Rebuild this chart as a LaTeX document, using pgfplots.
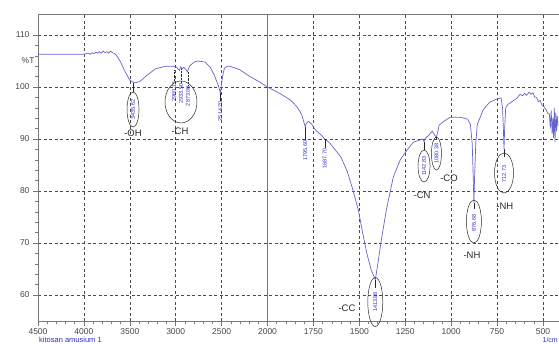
\documentclass[border=0pt]{standalone}
\usepackage{fontspec}
\setmainfont{Liberation Sans}
\usepackage{pgfplots}
\pgfplotsset{compat=1.18}
\definecolor{curve}{RGB}{100,100,205}
\definecolor{lbl}{RGB}{45,45,200}
\definecolor{grd}{RGB}{75,75,75}
\definecolor{frm}{RGB}{120,120,120}
\definecolor{tck}{RGB}{70,70,70}
\definecolor{ann}{RGB}{40,40,40}
\tikzset{
 annot/.style={font=\fontsize{5.5}{6}\selectfont, text=lbl, rotate=90, inner sep=0.5pt},
 grp/.style={font=\fontsize{9.5}{10}\selectfont, text=ann, inner sep=0pt},
}
\begin{document}
\begin{tikzpicture}
\begin{axis}[name=ax, scale only axis, width=521pt, height=307pt,
 xmin=0, xmax=11.35, ymin=55, ymax=114.04,
 xtick={0,...,11},
 xticklabels={4500,4000,3500,3000,2500,2000,1750,1500,1250,1000,750,500},
 minor x tick num=4,
 ytick={60,70,80,90,100,110}, minor y tick num=4,
 extra y ticks={105}, extra y tick labels={\%T},
 extra y tick style={grid=none, major tick length=0pt},
 xtick pos=bottom, ytick pos=left,
 tick align=outside, major tick length=5pt, minor tick length=3pt,
 grid=major,
 major grid style={grd, dash pattern=on 3pt off 2.5pt, line width=0.6pt},
 axis line style={frm, line width=0.6pt},
 tick style={frm, line width=0.5pt},
 ticklabel style={font=\fontsize{8.5}{9}\selectfont, text=tck},
 xticklabel style={yshift=1pt},
 /pgf/number format/assume math mode=true,
 clip mode=individual,
]
\draw[frm, line width=0.7pt] (axis cs:5,55) -- (axis cs:5,114.04);
\addplot[curve, line width=0.7pt, mark=none]
 table[x expr={\thisrowno{0}>=2000 ? (4500-\thisrowno{0})/500 : 5+(2000-\thisrowno{0})/250}, y index=1] {
wn T
4500 106.3
4400 106.3
4200 106.3
4000 106.3
3980 106.4
3950 106.5
3930 106.3
3910 106.6
3890 106.4
3870 106.7
3850 106.5
3830 106.8
3810 106.5
3790 106.9
3770 106.6
3750 106.8
3730 106.5
3710 106.9
3690 106.6
3670 106.5
3650 106.2
3600 104.8
3550 102.9
3500 101.3
3460 100.9
3435 100.8
3400 101.0
3380 101.2
3310 102.3
3220 103.5
3110 104.0
3030 104.0
2990 103.8
2960 103.2
2945 103.9
2933 103.4
2915 103.8
2890 103.4
2873 102.9
2850 104.0
2800 104.8
2760 105.0
2680 104.8
2620 103.7
2580 102.3
2540 100.5
2520 99.3
2514 98.8
2505 100.0
2490 102.0
2470 103.6
2440 104.0
2410 104.0
2300 103.3
2200 102.1
2090 101.0
2000 100.0
1930 98.7
1875 97.5
1840 96.2
1815 94.8
1800 93.0
1795 92.4
1788 93.0
1778 93.4
1760 92.9
1740 91.8
1700 90.5
1688 90.0
1660 89.2
1640 88.3
1600 86.5
1565 83.7
1535 80.2
1505 76.3
1485 72.5
1457 67.7
1435 64.8
1413 62.9
1398 66.3
1380 70.6
1353 76.3
1315 82.7
1277 86.0
1240 87.9
1206 89.4
1170 89.8
1155 90.0
1148 89.5
1140 90.2
1125 90.6
1103 91.5
1090 90.8
1080 90.3
1072 91.5
1065 92.7
1043 93.3
1005 94.2
950 94.2
910 93.8
895 92.8
885 89.0
880 83.0
876 77.7
872 83.0
866 89.0
858 92.7
826 95.6
790 97.1
750 97.7
728 97.9
720 96.0
715 91.5
712 88.0
709 91.5
703 96.0
690 96.7
680 96.9
660 97.4
640 97.9
625 98.6
610 98.3
600 98.8
590 98.4
575 99.0
565 98.6
555 98.9
545 98.1
535 98.0
525 97.2
515 97.4
505 96.5
495 96.2
485 95.8
475 95.0
465 94.8
460 92.0
455 95.5
450 91.0
446 94.0
442 90.2
438 96.0
434 89.5
430 95.0
426 91.5
422 94.5
418 92.5
};
% peak annotations
\draw[ann, line width=0.5pt] (axis cs:2.07,100.8) -- (axis cs:2.07,99.0);
\draw[ann, line width=0.5pt] (axis cs:2.07,95.67) ellipse [x radius=6pt, y radius=17.5pt];
\node[annot] at (axis cs:2.07,95.67) {3435.62};
\node[grp] at (axis cs:2.07,91.15) {-OH};
\draw[ann, line width=0.5pt] (axis cs:3.115,97.12) ellipse [x radius=16pt, y radius=21pt];
\draw[ann, line width=0.4pt, densely dotted] (axis cs:2.963,103.2) -- (axis cs:2.963,101.2);
\draw[ann, line width=0.4pt, densely dotted] (axis cs:3.115,103.4) -- (axis cs:3.115,100.8);
\draw[ann, line width=0.4pt, densely dotted] (axis cs:3.268,102.9) -- (axis cs:3.268,100.3);
\node[annot, anchor=east] at (axis cs:2.963,101.2) {2960.15};
\node[annot, anchor=east] at (axis cs:3.115,100.8) {2933.50};
\node[annot, anchor=east] at (axis cs:3.268,100.3) {2873.00};
\node[grp] at (axis cs:3.094,91.54) {-CH};
\draw[ann, line width=0.5pt] (axis cs:3.972,98.8) -- (axis cs:3.972,97.4);
\node[annot, anchor=east] at (axis cs:3.972,97.4) {2514.20};
\draw[ann, line width=0.5pt] (axis cs:5.82,92.4) -- (axis cs:5.82,89.8);
\node[annot, anchor=east] at (axis cs:5.82,89.8) {1795.60};
\draw[ann, line width=0.5pt] (axis cs:6.248,90.0) -- (axis cs:6.248,88.3);
\node[annot, anchor=east] at (axis cs:6.248,88.3) {1687.70};
\draw[ann, line width=0.5pt] (axis cs:7.348,62.9) -- (axis cs:7.348,61.4);
\draw[ann, line width=0.5pt] (axis cs:7.348,58.65) ellipse [x radius=7.5pt, y radius=24.5pt];
\node[annot] at (axis cs:7.348,58.65) {1413.88};
\node[grp] at (axis cs:6.732,57.5) {-CC};
\draw[ann, line width=0.5pt] (axis cs:8.41,89.5) -- (axis cs:8.41,87.9);
\draw[ann, line width=0.5pt] (axis cs:8.41,84.8) ellipse [x radius=6pt, y radius=16pt];
\node[annot] at (axis cs:8.41,84.8) {1142.83};
\draw[ann, line width=0.5pt] (axis cs:8.68,90.3) -- (axis cs:8.68,90.0);
\draw[ann, line width=0.5pt] (axis cs:8.68,87.2) ellipse [x radius=5pt, y radius=16.5pt];
\node[annot] at (axis cs:8.68,87.2) {1080.38};
\node[grp] at (axis cs:8.954,82.5) {-CO};
\node[grp] at (axis cs:8.366,79.2) {-CN};
\draw[ann, line width=0.5pt] (axis cs:9.496,74.13) ellipse [x radius=7.5pt, y radius=21.5pt];
\draw[ann, line width=0.4pt] (axis cs:9.496,77.7) -- (axis cs:9.496,76.6);
\node[annot] at (axis cs:9.496,73.8) {876.68};
\node[grp] at (axis cs:9.455,67.7) {-NH};
\draw[ann, line width=0.5pt] (axis cs:10.152,83.46) ellipse [x radius=9.5pt, y radius=20pt];
\draw[ann, line width=0.4pt] (axis cs:10.152,88.0) -- (axis cs:10.152,86.6);
\node[annot] at (axis cs:10.152,83.3) {712.73};
\node[grp] at (axis cs:10.17,77.1) {-NH};
\end{axis}
\node[anchor=west, font=\fontsize{7.5}{8}\selectfont, text=lbl, inner sep=0pt] at ([shift={(1pt,-19pt)}]ax.south west) {kitosan amusium 1};
\node[anchor=east, font=\fontsize{7}{8}\selectfont, text=lbl, inner sep=0pt] at ([shift={(-1pt,-19pt)}]ax.south east) {1/cm};
\pgfresetboundingbox
\path[use as bounding box] ([shift={(-38pt,-22pt)}]ax.south west) rectangle ([shift={(0pt,14pt)}]ax.north east);
\end{tikzpicture}
\end{document}
